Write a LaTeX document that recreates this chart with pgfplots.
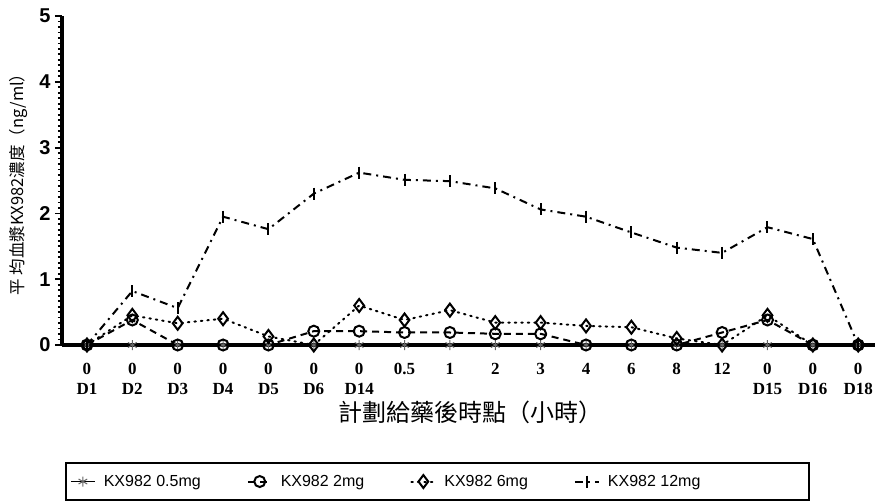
\documentclass[border=0pt]{standalone}
\usepackage{pgfplots}
\pgfplotsset{compat=1.18}
\usepackage{fontspec}
\setmainfont{Liberation Serif}
\newfontfamily\arialfont{Liberation Sans}
\newfontfamily\cjk{Noto Sans CJK TC}
\begin{document}
\begin{tikzpicture}
\path[use as bounding box] (-62pt,-158pt) rectangle (813pt,345pt);
\begin{axis}[
  at={(0pt,0pt)}, anchor=south west,
  width=813pt, height=329pt, scale only axis,
  xmin=-0.55, xmax=17.37, ymin=0, ymax=5,
  clip=false,
  axis x line=bottom, axis y line=left,
  axis line style={line width=3.2pt, -},
  xtick={0,...,17},
  xticklabels={{0\\D1},{0\\D2},{0\\D3},{0\\D4},{0\\D5},{0\\D6},{0\\D14},0.5,1,2,3,4,6,8,12,{0\\D15},{0\\D16},{0\\D18}},
  xticklabel style={align=center, anchor=north, font=\bfseries\fontsize{17}{20}\selectfont, yshift=-8pt},
  x tick style={draw=none},
  ytick={0,1,2,3,4,5},
  minor y tick num=11,
  tick align=outside,
  major tick length=7pt, minor tick length=4pt,
  y tick style={line width=1.8pt, black},
  /pgf/number format/assume math mode=true,
  yticklabel style={font=\arialfont\bfseries\fontsize{20}{20}\selectfont, xshift=-1pt},
  ylabel={平 均血漿KX982濃度（ng/ml）},
  ylabel style={at={(rel axis cs:-0.054,0.5)}, anchor=center, font=\cjk\fontsize{16.5}{16.5}\selectfont},
  xlabel={計劃給藥後時點（小時）},
  xlabel style={at={(rel axis cs:0.502,-0.204)}, anchor=center, font=\cjk\fontsize{24}{24}\selectfont},
  legend columns=4,
  legend image code/.code={\draw[mark repeat=2,mark phase=2] plot coordinates {(0pt,0pt) (12pt,0pt) (24pt,0pt)};},
  legend style={at={(0.0037,-0.415)}, anchor=west, draw=black, line width=2pt,
    font=\arialfont\fontsize{16}{16}\selectfont, inner xsep=4pt, inner ysep=10pt,
    /tikz/every odd column/.append style={column sep=6pt},
    /tikz/every even column/.append style={column sep=44pt}},
  legend cell align=left,
]
\addplot[black, line width=1.8pt, mark=asterisk, mark size=5pt, mark options={line width=1pt, black!60}]
  coordinates {(0,0)(1,0)(2,0)(3,0)(4,0)(5,0)(6,0)(7,0)(8,0)(9,0)(10,0)(11,0)(12,0)(13,0)(14,0)(15,0)(16,0)(17,0)};
\addlegendentry{KX982 0.5mg}
\addplot[black, line width=2pt, dash pattern=on 7pt off 5pt, mark=o, mark size=5.5pt, mark options={solid, line width=2pt}]
  coordinates {(0,0)(1,0.38)(2,0)(3,0)(4,0)(5,0.21)(6,0.21)(7,0.19)(8,0.19)(9,0.17)(10,0.17)(11,0)(12,0)(13,0)(14,0.19)(15,0.38)(16,0)(17,0)};
\addlegendentry{KX982 2mg}
\addplot[black, line width=2pt, dash pattern=on 1.5pt off 5pt, line cap=round, mark=diamond, mark size=6.5pt, mark options={solid, line width=2pt}]
  coordinates {(0,0)(1,0.45)(2,0.33)(3,0.40)(4,0.13)(5,0)(6,0.60)(7,0.38)(8,0.53)(9,0.34)(10,0.34)(11,0.29)(12,0.27)(13,0.10)(14,0)(15,0.45)(16,0)(17,0)};
\addlegendentry{KX982 6mg}
\addplot[black, line width=2pt, dash pattern=on 8pt off 5pt on 2pt off 5pt, mark=|, mark size=6pt, mark options={solid, line width=2pt}]
  coordinates {(0,0)(1,0.82)(2,0.56)(3,1.95)(4,1.76)(5,2.30)(6,2.62)(7,2.51)(8,2.49)(9,2.38)(10,2.06)(11,1.95)(12,1.71)(13,1.48)(14,1.40)(15,1.79)(16,1.61)(17,0)};
\addlegendentry{KX982 12mg\hbox to 103pt{}}
\end{axis}
\end{tikzpicture}
\end{document}
